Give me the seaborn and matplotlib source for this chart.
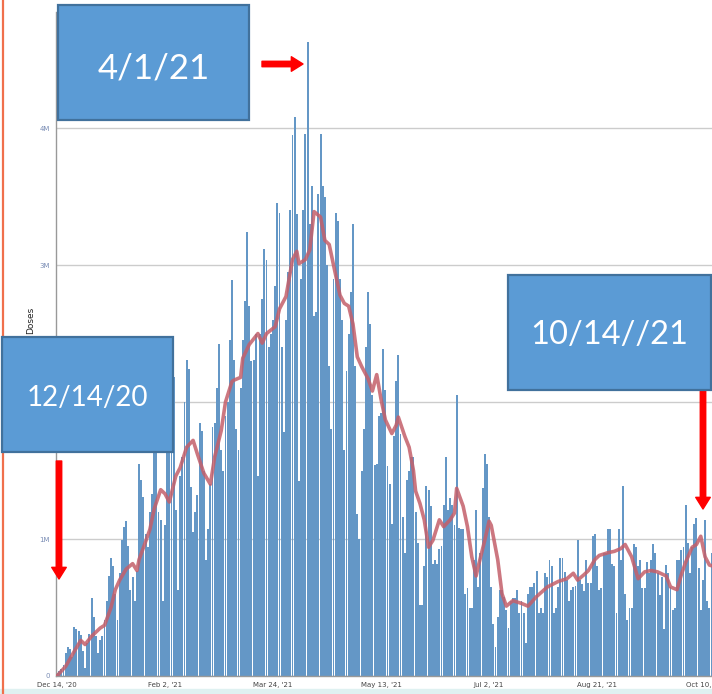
"""Daily COVID-19 vaccine doses with 7-day average and slide callouts."""

import matplotlib
matplotlib.use("Agg")
import matplotlib.pyplot as plt
from matplotlib.patches import Rectangle
import numpy as np
import seaborn as sns

# daily doses administered (millions), one per day starting Dec 14 '20
doses = [
    0.02, 0.04, 0.05, 0.08, 0.17, 0.21, 0.2, 0.14, 0.36, 0.34,
    0.33, 0.3, 0.18, 0.06, 0.24, 0.31, 0.57, 0.43, 0.29, 0.17,
    0.26, 0.29, 0.41, 0.55, 0.73, 0.86, 0.8, 0.6, 0.41, 0.75,
    0.99, 1.09, 1.13, 0.95, 0.63, 0.72, 0.55, 0.77, 1.55, 1.43,
    1.31, 1.04, 0.94, 1.2, 1.33, 1.7, 1.75, 1.2, 1.14, 0.55,
    1.1, 1.75, 1.9, 1.85, 2.18, 1.21, 0.63, 1.46, 1.6, 2.0,
    2.31, 2.24, 1.38, 1.05, 1.2, 1.32, 1.85, 1.79, 1.5, 0.85,
    1.07, 1.4, 1.82, 1.85, 2.1, 2.42, 1.65, 1.5, 1.9, 2.0,
    2.45, 2.89, 2.31, 1.8, 1.65, 2.1, 2.45, 2.74, 3.24, 2.7,
    2.3, 2.31, 2.5, 1.46, 2.5, 2.75, 3.12, 3.04, 2.4, 2.5,
    2.6, 2.85, 3.45, 3.38, 2.4, 1.78, 2.6, 2.95, 3.4, 3.95,
    4.08, 3.37, 1.42, 2.9, 3.4, 3.96, 4.63, 3.3, 3.58, 2.63,
    2.66, 3.52, 3.96, 3.58, 3.5, 3.0, 2.26, 1.8, 2.9, 3.38,
    3.32, 2.9, 2.6, 1.65, 2.23, 2.5, 2.8, 3.3, 2.26, 1.18,
    1.0, 1.5, 1.8, 2.4, 2.8, 2.57, 2.05, 1.54, 1.55, 1.9,
    1.92, 2.39, 2.09, 1.53, 1.4, 1.11, 1.75, 2.15, 2.34, 1.77,
    1.16, 0.9, 1.43, 1.5, 1.6, 1.6, 1.2, 0.97, 0.52, 0.52,
    0.8, 1.39, 1.36, 1.24, 0.82, 0.85, 0.82, 0.93, 0.95, 1.25,
    1.6, 1.21, 1.3, 1.25, 1.1, 2.05, 1.08, 1.07, 1.07, 0.6,
    0.64, 0.5, 0.5, 0.85, 1.21, 0.65, 0.9, 1.37, 1.62, 1.55,
    1.16, 0.65, 0.38, 0.21, 0.43, 0.63, 0.63, 0.58, 0.48, 0.35,
    0.55, 0.57, 0.57, 0.63, 0.46, 0.55, 0.46, 0.24, 0.6, 0.65,
    0.65, 0.68, 0.77, 0.46, 0.5, 0.46, 0.75, 0.72, 0.85, 0.8,
    0.46, 0.5, 0.65, 0.86, 0.86, 0.76, 0.7, 0.55, 0.63, 0.65,
    0.66, 0.99, 0.7, 0.67, 0.62, 0.85, 0.68, 0.68, 1.02, 1.04,
    0.8, 0.63, 0.64, 0.9, 0.9, 1.07, 1.07, 0.82, 0.8, 0.46,
    1.07, 0.85, 1.39, 0.6, 0.41, 0.5, 0.5, 0.96, 0.94, 0.8,
    0.85, 0.64, 0.64, 0.83, 0.75, 0.85, 0.96, 0.9, 0.75, 0.59,
    0.72, 0.34, 0.81, 0.75, 0.65, 0.48, 0.5, 0.85, 0.85, 0.92,
    0.94, 1.25, 0.97, 0.75, 0.94, 1.11, 1.15, 0.79, 0.48, 0.7,
    1.14, 0.55, 0.5, 0.9,
]

# 7-day average (day index, millions)
avg_days = [
    0, 4, 8, 11, 13, 16, 20, 22, 25, 27, 29, 32, 35, 37, 38, 41, 43, 45, 48,
    50, 52, 55, 57, 60, 63, 65, 68, 71, 73, 76, 78, 81, 82, 85, 86, 89, 93,
    95, 97, 101, 103, 106, 109, 111, 112, 115, 117, 119, 122, 124, 126, 128,
    131, 133, 135, 137, 139, 141, 144, 146, 148, 150, 152, 155, 157, 158,
    161, 163, 165, 166, 168, 170, 172, 174, 177, 179, 182, 184, 185, 188,
    190, 192, 194, 195, 198, 200, 201, 204, 206, 208, 211, 215, 218, 222,
    227, 232, 236, 239, 241, 244, 246, 249, 251, 255, 258, 261, 263, 266,
    269, 272, 275, 278, 282, 284, 287, 289, 291, 294, 296, 298, 300, 302, 304,
]
avg_vals = [
    0.0, 0.07, 0.18, 0.26, 0.23, 0.29, 0.35, 0.37, 0.5, 0.63, 0.7, 0.78,
    0.82, 0.77, 0.85, 0.98, 1.07, 1.22, 1.36, 1.33, 1.27, 1.46, 1.52, 1.67,
    1.72, 1.62, 1.48, 1.4, 1.6, 1.79, 2.0, 2.15, 2.16, 2.18, 2.32, 2.42,
    2.5, 2.43, 2.5, 2.55, 2.68, 2.77, 3.04, 3.1, 3.01, 3.04, 3.11, 3.39,
    3.35, 3.18, 3.15, 3.0, 2.78, 2.72, 2.7, 2.57, 2.33, 2.26, 2.17, 2.08,
    2.2, 2.02, 1.87, 1.77, 1.83, 1.89, 1.75, 1.67, 1.5, 1.35, 1.26, 1.14,
    0.94, 0.99, 1.14, 1.09, 1.14, 1.19, 1.37, 1.24, 1.09, 0.87, 0.73, 0.8,
    0.99, 1.13, 1.1, 0.85, 0.6, 0.51, 0.55, 0.53, 0.51, 0.58, 0.65, 0.69,
    0.71, 0.75, 0.7, 0.74, 0.77, 0.85, 0.88, 0.9, 0.91, 0.93, 0.96, 0.87,
    0.71, 0.76, 0.77, 0.76, 0.73, 0.65, 0.63, 0.74, 0.83, 0.94, 0.96, 1.02,
    0.87, 0.81, 0.8,
]

tick_days = [0, 50, 100, 150, 200, 250, 300]
tick_labels = ["Dec 14, '20", "Feb 2, '21", "Mar 24, '21", "May 13, '21",
               "Jul 2, '21", "Aug 21, '21", "Oct 10, '21"]
y_ticks = [0, 1, 2, 3, 4]
y_labels = ["0", "1M", "2M", "3M", "4M"]

# callout boxes: label, left, top, right, bottom, text centre y, font size
# (figure pixels from top-left)
callouts = [
    ("4/1/21", 58, 5, 249, 120, 68.5, 25),
    ("12/14/20", 2, 337, 173, 452, 397.5, 20),
    ("10/14//21", 508, 275, 711, 390, 335.5, 23.5),
]
# red arrows: start -> end (figure pixels from top-left)
arrows = [((262, 64), (303, 64)), ((59, 461), (59, 579)), ((703, 391), (703, 509))]

W, H = 712, 694
sns.set_theme(style="white")
fig = plt.figure(figsize=(W / 100, H / 100), dpi=100)
fig.patch.set_facecolor("white")
ax = fig.add_axes([56 / W, 18 / H, 1 - 56 / W, 664 / H])

days = np.arange(len(doses))
sns.barplot(x=days, y=doses, native_scale=True, color="#6497c6", saturation=1,
            width=0.88, errorbar=None, linewidth=0, ax=ax, zorder=2)
sns.lineplot(x=avg_days, y=avg_vals, color="#c45f6a", lw=2.6, alpha=0.85,
             ax=ax, zorder=3)

ax.set_xlim(-0.46, 303.2)
ax.set_ylim(0, 4.847)
ax.set_yticks(y_ticks)
ax.set_yticklabels(y_labels, color="#7a8db5", fontsize=5)
ax.set_xticks(tick_days)
ax.set_xticklabels(tick_labels, color="#444444", fontsize=5)
ax.yaxis.grid(True, color="#cccccc", lw=1)
ax.set_axisbelow(True)
ax.tick_params(axis="both", length=3, width=0.6, color="#999999", pad=1.5)
for side in ["top", "right"]:
    ax.spines[side].set_visible(False)
for side in ["left", "bottom"]:
    ax.spines[side].set_color("#999999")
    ax.spines[side].set_linewidth(1)
ax.set_xlabel("")
ax.set_ylabel("Doses", fontsize=6.5, color="#222222", labelpad=0)
ax.yaxis.set_label_coords(-0.032, 0.536)

# slide decorations: left accent line and bottom strip
fig.add_artist(Rectangle((0, 0), 1, 5 / H, transform=fig.transFigure,
                         color="#dff1f1", zorder=0))
fig.add_artist(plt.Line2D([2.5 / W, 2.5 / W], [0, 1], transform=fig.transFigure,
                          color="#f0704c", lw=1.6, zorder=5))

for label, x0, y0, x1, y1, ty, size in callouts:
    fig.add_artist(Rectangle((x0 / W, 1 - y1 / H), (x1 - x0) / W, (y1 - y0) / H,
                             transform=fig.transFigure, facecolor="#5b9bd5",
                             edgecolor="#41719c", lw=1.6, zorder=10))
    fig.text((x0 + x1) / 2 / W, 1 - ty / H, label,
             color="white", fontsize=size, family="Lato",
             ha="center", va="center", zorder=11)

for (sx, sy), (ex, ey) in arrows:
    ax.annotate("", xy=(ex, H - ey), xytext=(sx, H - sy), xycoords="figure pixels",
                textcoords="figure pixels", annotation_clip=False, zorder=12,
                arrowprops=dict(arrowstyle="simple,head_length=0.6,head_width=0.75,tail_width=0.28",
                                mutation_scale=14, color="#ff0000", shrinkA=0, shrinkB=0))

fig.savefig("out.png", dpi=100)
